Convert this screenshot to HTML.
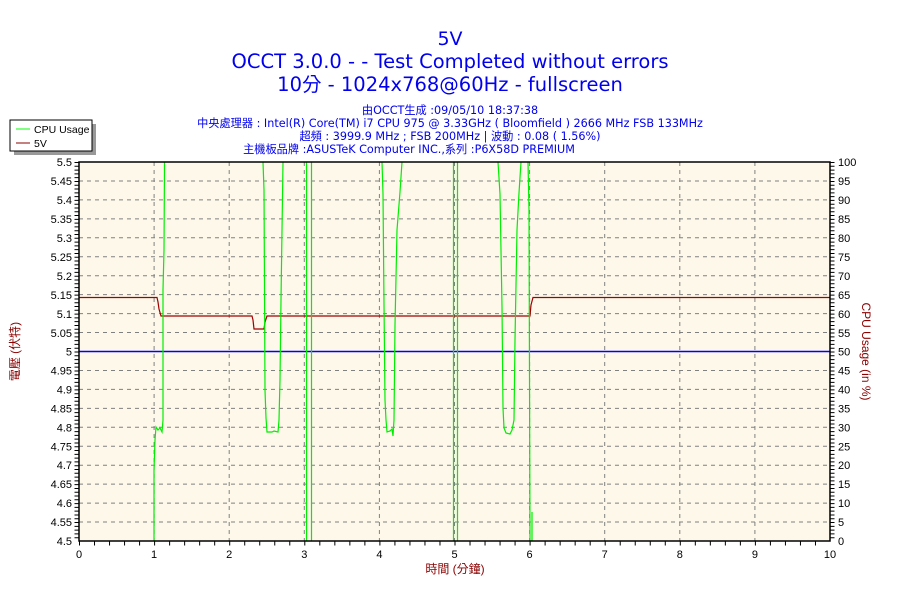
<!DOCTYPE html>
<html><head><meta charset="utf-8"><style>
body{margin:0;background:#fff;width:900px;height:600px;overflow:hidden}
svg{display:block}
text{font-family:"Liberation Sans","Noto Sans CJK TC",sans-serif}
.dj{font-family:"DejaVu Sans","Noto Sans CJK TC",sans-serif}
</style></head><body>
<svg width="900" height="600" xmlns="http://www.w3.org/2000/svg">
<rect width="900" height="600" fill="#fff"/>
<g fill="#0000ee" text-anchor="middle" class="dj">
<text class="dj" x="450" y="45" font-size="19">5V</text>
<text class="dj" x="450" y="68" font-size="19.5">OCCT 3.0.0 -  - Test Completed without errors</text>
<text class="dj" x="450" y="91" font-size="19.5">10分 - 1024x768@60Hz - fullscreen</text>
<text class="dj" x="450" y="114" font-size="11.2">由OCCT生成 :09/05/10 18:37:38</text>
<text class="dj" x="450" y="127" font-size="11.2">中央處理器 : Intel(R) Core(TM) i7 CPU 975 @ 3.33GHz ( Bloomfield ) 2666 MHz FSB 133MHz</text>
<text class="dj" x="450" y="140" font-size="11.2">超頻 : 3999.9 MHz ; FSB 200MHz | 波動 : 0.08 ( 1.56%)</text>
<text class="dj" x="409" y="153" font-size="11.2">主機板品牌 :ASUSTeK Computer INC.,系列 :P6X58D PREMIUM</text>
</g>
<!-- legend -->
<rect x="14" y="124" width="82" height="31" fill="#999"/>
<rect x="10" y="120" width="82" height="31" fill="#fff" stroke="#000"/>
<line x1="16" y1="129" x2="30" y2="129" stroke="#00ff00"/>
<line x1="16" y1="143" x2="30" y2="143" stroke="#8b0000"/>
<text x="34" y="133" font-size="10.5">CPU Usage</text>
<text x="34" y="147" font-size="10.5">5V</text>
<!-- plot -->
<rect x="79" y="162" width="751" height="379" fill="#fdf8ea"/>
<g stroke="#808080" stroke-dasharray="4,4" stroke-width="1">
<path d="M79 180.95H830M79 199.9H830M79 218.85H830M79 237.8H830M79 256.75H830M79 275.7H830M79 294.65H830M79 313.6H830M79 332.55H830M79 351.5H830M79 370.45H830M79 389.4H830M79 408.35H830M79 427.3H830M79 446.25H830M79 465.2H830M79 484.15H830M79 503.1H830M79 522.05H830"/>
<path d="M154.1 162V541M229.2 162V541M304.3 162V541M379.4 162V541M454.5 162V541M529.6 162V541M604.7 162V541M679.8 162V541M754.9 162V541"/>
</g>
<line x1="79" y1="351.5" x2="830" y2="351.5" stroke="#0000ff" stroke-width="1.5"/>
<polyline fill="none" stroke="#a00000" stroke-width="1.2" points="79,297.5 157,297.5 158,302 159,309 161,316 252,316 253,320 254,329 264,329 265,322 267,316 530,316 531,305 533,297.5 830,297.5"/>
<g fill="none" stroke="#00ee00" stroke-width="1.2">
<polyline points="154,541 154,470 155,440 156,427 158,430 160,428 162,432 163,420 163,290 164,250 164.5,162"/>
<polyline points="263,162 264,190 265,390 266,418 267,432 272,432 274,431 278,432 279,420 280,380 281,300 282,230 283,162"/>
<polyline points="306.5,162 306.5,541"/>
<polyline points="311.5,162 311.5,541"/>
<polyline points="453.5,162 453.5,541"/>
<polyline points="457.5,162 457.5,541"/>
<polyline points="382,162 383,194 384,305 385,400 386,420 387,432 390,431 392,429 393,436 394,420 395,325 397,230 400,192 402,162"/>
<polyline points="498,162 500,194 502,307 503,408 504,428 506,433 510,434 512,430 514,420 515,340 517,230 519,193 521,162"/>
<polyline points="528,162 529,210 530,541"/>
<polyline points="532,512 532,541"/>
</g>
<rect x="79" y="162" width="751" height="379" fill="none" stroke="#000" stroke-width="1.5"/>
<line x1="76.5" y1="162" x2="76.5" y2="541" stroke="#000" stroke-width="4" stroke-dasharray="1,2.79"/>
<line x1="832.5" y1="162" x2="832.5" y2="541" stroke="#000" stroke-width="4" stroke-dasharray="1,2.79"/>
<line x1="79" y1="543.5" x2="830" y2="543.5" stroke="#000" stroke-width="4" stroke-dasharray="1,14.02"/>
<g font-size="11" text-anchor="end">
<text x="72" y="166">5.5</text><text x="72" y="185">5.45</text><text x="72" y="204">5.4</text><text x="72" y="223">5.35</text><text x="72" y="242">5.3</text><text x="72" y="261">5.25</text><text x="72" y="280">5.2</text><text x="72" y="299">5.15</text><text x="72" y="318">5.1</text><text x="72" y="337">5.05</text><text x="72" y="355.5">5</text><text x="72" y="374.5">4.95</text><text x="72" y="393.5">4.9</text><text x="72" y="412.5">4.85</text><text x="72" y="431.5">4.8</text><text x="72" y="450.5">4.75</text><text x="72" y="469">4.7</text><text x="72" y="488">4.65</text><text x="72" y="507">4.6</text><text x="72" y="526">4.55</text><text x="72" y="545">4.5</text>
</g>
<g font-size="11">
<text x="838" y="166">100</text><text x="838" y="185">95</text><text x="838" y="204">90</text><text x="838" y="223">85</text><text x="838" y="242">80</text><text x="838" y="261">75</text><text x="838" y="280">70</text><text x="838" y="299">65</text><text x="838" y="318">60</text><text x="838" y="337">55</text><text x="838" y="355.5">50</text><text x="838" y="374.5">45</text><text x="838" y="393.5">40</text><text x="838" y="412.5">35</text><text x="838" y="431.5">30</text><text x="838" y="450.5">25</text><text x="838" y="469">20</text><text x="838" y="488">15</text><text x="838" y="507">10</text><text x="838" y="526">5</text><text x="838" y="545">0</text>
</g>
<g font-size="11" text-anchor="middle">
<text x="79" y="558">0</text><text x="154.1" y="558">1</text><text x="229.2" y="558">2</text><text x="304.3" y="558">3</text><text x="379.4" y="558">4</text><text x="454.5" y="558">5</text><text x="529.6" y="558">6</text><text x="604.7" y="558">7</text><text x="679.8" y="558">8</text><text x="754.9" y="558">9</text><text x="830" y="558">10</text>
</g>
<text x="455" y="573" font-size="12" fill="#8b0000" text-anchor="middle">時間 (分鐘)</text>
<text transform="translate(19,351.5) rotate(-90)" font-size="12" fill="#8b0000" text-anchor="middle">電壓 (伏特)</text>
<text transform="translate(862,351.5) rotate(90)" font-size="12" fill="#8b0000" text-anchor="middle">CPU Usage (in %)</text>
</svg>
</body></html>
